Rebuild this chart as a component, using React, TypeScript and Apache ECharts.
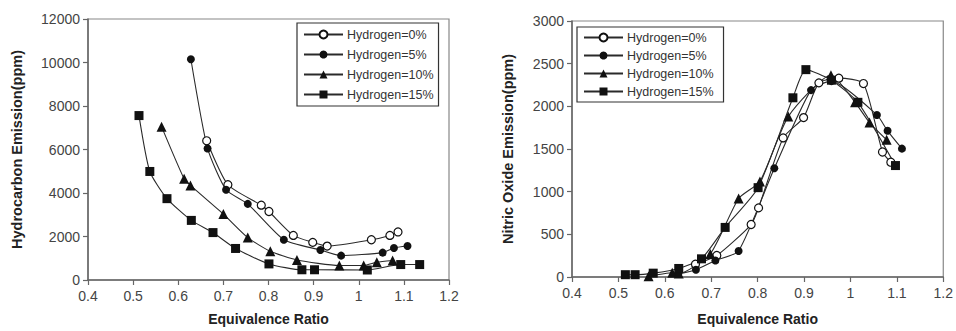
import React, { useEffect, useRef } from "react";
import * as echarts from "echarts";

const seriesNames = ["Hydrogen=0%", "Hydrogen=5%", "Hydrogen=10%", "Hydrogen=15%"];
const xTicks = { min: 0.4, max: 1.2, interval: 0.1 };

// Hydrocarbon emission (ppm)
const hc0X = [0.663, 0.71, 0.784, 0.801, 0.855, 0.898, 0.93, 1.028, 1.069, 1.087];
const hc0Y = [6400, 4380, 3440, 3150, 2050, 1730, 1560, 1850, 2050, 2210];
const hc5X = [0.628, 0.665, 0.706, 0.754, 0.834, 0.915, 0.961, 1.053, 1.078, 1.108];
const hc5Y = [10150, 6050, 4150, 3500, 1850, 1380, 1120, 1260, 1470, 1560];
const hc10X = [0.563, 0.613, 0.627, 0.7, 0.754, 0.804, 0.863, 0.957, 1.011, 1.04, 1.075];
const hc10Y = [7050, 4650, 4350, 3030, 1950, 1320, 920, 670, 670, 820, 900];
const hc15X = [0.513, 0.537, 0.575, 0.629, 0.677, 0.727, 0.801, 0.874, 0.902, 1.019, 1.093, 1.135];
const hc15Y = [7560, 4990, 3740, 2740, 2180, 1450, 740, 470, 470, 460, 710, 710];

// Nitric oxide emission (ppm)
const no0X = [0.666, 0.712, 0.786, 0.802, 0.855, 0.899, 0.932, 0.975, 1.028, 1.069, 1.087];
const no0Y = [150, 252, 615, 810, 1630, 1868, 2275, 2330, 2267, 1465, 1345];
const no5X = [0.629, 0.667, 0.709, 0.759, 0.836, 0.915, 0.959, 1.057, 1.08, 1.111];
const no5Y = [35, 85, 194, 305, 1275, 2190, 2295, 1899, 1713, 1504];
const no10X = [0.565, 0.616, 0.63, 0.698, 0.759, 0.805, 0.866, 0.958, 1.01, 1.041, 1.078];
const no10Y = [8, 50, 40, 270, 920, 1120, 1880, 2365, 2047, 1810, 1608];
const no15X = [0.515, 0.536, 0.575, 0.63, 0.679, 0.73, 0.801, 0.876, 0.904, 0.959, 1.016, 1.097];
const no15Y = [27, 27, 45, 100, 213, 581, 1047, 2100, 2430, 2306, 2047, 1306];

const FONT = "'Liberation Sans', Arial, sans-serif";

const pair = (xs: number[], ys: number[]) => xs.map((x, i) => [x, ys[i]]);

const symbolStyles = [
  { symbol: "circle", symbolSize: 8, itemStyle: { color: "#ffffff", borderColor: "#111", borderWidth: 1.2 } },
  { symbol: "circle", symbolSize: 8, itemStyle: { color: "#111", borderColor: "#111", borderWidth: 0 } },
  { symbol: "triangle", symbolSize: 10, itemStyle: { color: "#111", borderColor: "#111", borderWidth: 0 } },
  { symbol: "rect", symbolSize: 9, itemStyle: { color: "#111", borderColor: "#111", borderWidth: 0 } },
];

function makeSeries(idx: number, data: number[][], k: number) {
  return {
    type: "line",
    name: seriesNames[k],
    xAxisIndex: idx,
    yAxisIndex: idx,
    data,
    smooth: 0.2,
    ...symbolStyles[k],
    showAllSymbol: true,
    lineStyle: { color: "#2a2a2a", width: 1.1 },
    emphasis: { disabled: true },
  };
}

function xAxis(idx: number, nameGap: number) {
  return {
    type: "value",
    gridIndex: idx,
    min: xTicks.min,
    max: xTicks.max,
    interval: xTicks.interval,
    name: "Equivalence Ratio",
    nameLocation: "middle",
    nameGap,
    nameTextStyle: { fontFamily: FONT, fontSize: 14, fontWeight: "bold", color: "#222" },
    axisLine: { show: true, onZero: false, lineStyle: { color: "#666", width: 1.5 } },
    axisTick: { show: true, inside: false, length: 5, lineStyle: { color: "#666", width: 1.2 } },
    axisLabel: { fontFamily: FONT, fontSize: 14, color: "#444", margin: 9 },
    splitLine: { show: false },
  };
}

function yAxis(idx: number, name: string, max: number, interval: number, nameGap: number) {
  return {
    type: "value",
    gridIndex: idx,
    min: 0,
    max,
    interval,
    name,
    nameLocation: "middle",
    nameGap,
    nameTextStyle: { fontFamily: FONT, fontSize: 14.5, fontWeight: "bold", color: "#222" },
    axisLine: { show: true, onZero: false, lineStyle: { color: "#666", width: 1.5 } },
    axisTick: { show: true, inside: false, length: 5, lineStyle: { color: "#666", width: 1.2 } },
    axisLabel: { fontFamily: FONT, fontSize: 14, color: "#444", margin: 8, formatter: (v: number) => String(v) },
    splitLine: { show: false },
  };
}

function legend(left: number, top: number, itemGap: number, padding: number[]) {
  return {
    orient: "vertical",
    left,
    top,
    itemGap,
    itemWidth: 39,
    itemHeight: 10,
    padding,
    borderColor: "#333",
    borderWidth: 1.2,
    backgroundColor: "#fff",
    selectedMode: false,
    data: seriesNames,
    textStyle: { fontFamily: FONT, fontSize: 12.5, color: "#333", padding: [0, 0, 0, -1] },
  };
}

export default function App() {
  const ref = useRef<HTMLDivElement>(null);
  useEffect(() => {
    if (!ref.current) return;
    const chart = echarts.init(ref.current, null, { renderer: "svg" });
    const hcData = [pair(hc0X, hc0Y), pair(hc5X, hc5Y), pair(hc10X, hc10Y), pair(hc15X, hc15Y)];
    const noData = [pair(no0X, no0Y), pair(no5X, no5Y), pair(no10X, no10Y), pair(no15X, no15Y)];
    chart.setOption({
      animation: false,
      backgroundColor: "#fff",
      textStyle: { fontFamily: FONT },
      grid: [
        { left: 88, top: 19, width: 361, height: 264, show: true, borderColor: "#888", borderWidth: 1.2, backgroundColor: "transparent" },
        { left: 572, top: 21, width: 375, height: 259, show: true, borderColor: "#888", borderWidth: 1.2, backgroundColor: "transparent" },
      ],
      xAxis: [xAxis(0, 32), xAxis(1, 35)],
      yAxis: [
        yAxis(0, "Hydrocarbon Emission(ppm)", 12000, 2000, 64),
        yAxis(1, "Nitric Oxide Emission(ppm)", 3000, 500, 57),
      ],
      legend: [legend(297, 23, 7, [5, 5, 5, 6]), legend(577, 27, 5, [4, 10, 4, 6])],
      series: [
        ...hcData.map((d, k) => makeSeries(0, d, k)),
        ...noData.map((d, k) => makeSeries(1, d, k)),
      ],
    });
    return () => chart.dispose();
  }, []);
  return <div ref={ref} style={{ position: "fixed", left: 0, top: 0, width: 956, height: 331 }} />;
}
